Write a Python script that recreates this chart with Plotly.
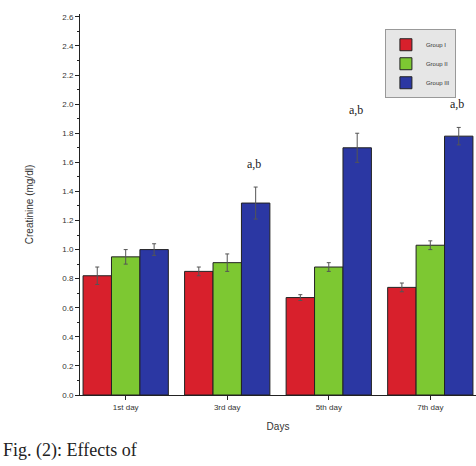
import plotly.graph_objects as go

days = ["1st day", "3rd day", "5th day", "7th day"]
group_names = ["Group I", "Group II", "Group III"]
group_colors = ["#d8202c", "#7dc832", "#2b37a3"]

# Mean creatinine (mg/dl) per group and day
group_i = [0.82, 0.85, 0.67, 0.74]
group_ii = [0.95, 0.91, 0.88, 1.03]
group_iii = [1.00, 1.32, 1.70, 1.78]

# Standard errors
err_i = [0.06, 0.03, 0.02, 0.03]
err_ii = [0.05, 0.06, 0.03, 0.03]
err_iii = [0.04, 0.11, 0.10, 0.06]

# Significance labels above the third group
sig_labels = ["", "a,b", "a,b", "a,b"]

fig = go.Figure()
for name, color, vals, errs in zip(group_names, group_colors,
                                   [group_i, group_ii, group_iii],
                                   [err_i, err_ii, err_iii]):
    fig.add_trace(go.Bar(
        x=days, y=vals, name=name,
        marker=dict(color=color, line=dict(color="#222222", width=1)),
        error_y=dict(type="data", array=errs, visible=True,
                     color="#555555", thickness=1, width=2),
    ))

for i, lab in enumerate(sig_labels):
    if lab:
        fig.add_annotation(
            x=days[i], y=group_iii[i] + err_iii[i] + 0.1,
            xshift=27, text=lab, showarrow=False,
            font=dict(family="Liberation Serif", size=12, color="#222222"),
            yanchor="bottom",
        )

fig.add_annotation(
    xref="paper", yref="paper", x=-0.2, y=-0.178,
    xanchor="left", yanchor="bottom",
    text="Fig. (2): Effects of", showarrow=False,
    font=dict(family="Liberation Serif", size=18, color="#222222"),
)

fig.update_layout(
    width=476, height=466,
    margin=dict(l=80, r=0, t=14, b=71),
    paper_bgcolor="white", plot_bgcolor="white",
    barmode="group", bargap=0.16, bargroupgap=0.0,
    font=dict(family="Liberation Sans", color="#333333"),
    showlegend=True,
    legend=dict(x=0.77, y=0.96, xanchor="left", yanchor="top",
                bgcolor="#e6e6e6", bordercolor="#999999", borderwidth=1,
                font=dict(size=6), itemwidth=30, tracegroupgap=0),
    xaxis=dict(
        range=[-0.45, 3.45], showline=True, linecolor="#222222", linewidth=1,
        ticks="outside", ticklen=4, tickcolor="#222222",
        tickfont=dict(size=8, color="#333333"),
        title=dict(text="Days", font=dict(size=10, color="#333333"), standoff=12),
        showgrid=False, zeroline=False,
    ),
    yaxis=dict(
        range=[0, 2.62], dtick=0.2, tickformat=".1f",
        showline=True, linecolor="#222222", linewidth=1,
        ticks="outside", ticklen=4, tickcolor="#222222",
        minor=dict(ticks="outside", ticklen=2, dtick=0.1, tickcolor="#222222"),
        tickfont=dict(size=8, color="#333333"),
        title=dict(text="Creatinine (mg/dl)", font=dict(size=10, color="#333333"), standoff=26),
        showgrid=False, zeroline=False,
    ),
)

fig.write_html("out.html")
